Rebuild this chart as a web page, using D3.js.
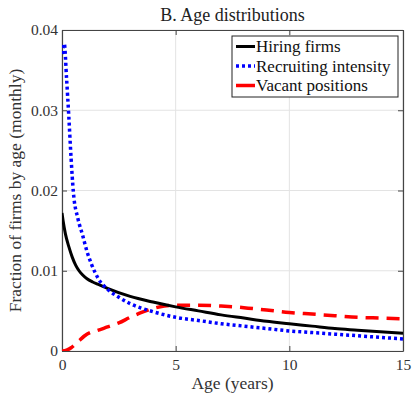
<!DOCTYPE html>
<html>
<head>
<meta charset="utf-8">
<script src="https://cdn.jsdelivr.net/npm/d3@7"></script>
<style>
  body { margin: 0; background: #fff; }
</style>
</head>
<body>
<svg class="ageChart"></svg>
<script>
var xTicks = [0, 5, 10, 15];
var yTicks = [0, 0.01, 0.02, 0.03, 0.04];

var hiringAge = [0, 0.05, 0.15, 0.3, 0.45, 0.6, 0.75, 0.9, 1.1, 1.35, 1.6, 2, 3, 4, 5, 6, 7, 8, 9, 10, 11, 12, 13, 14, 15];
var hiringVal = [0.0172, 0.0162, 0.0146, 0.0130, 0.0117, 0.0107, 0.0100, 0.0095, 0.0090, 0.0086, 0.0083, 0.0078, 0.0068, 0.0061, 0.0055, 0.0050, 0.0045, 0.0041, 0.0037, 0.0034, 0.0031, 0.0028, 0.0026, 0.0024, 0.0022];

var recruitAge = [0, 0.05, 0.1, 0.2, 0.3, 0.4, 0.5, 0.7, 0.9, 1.1, 1.3, 1.6, 2, 2.5, 3, 4, 5, 6, 7, 8, 9, 10, 11, 12, 13, 14, 15];
var recruitVal = [0.0370, 0.0378, 0.0383, 0.0340, 0.0292, 0.0240, 0.0198, 0.0165, 0.0145, 0.0124, 0.0108, 0.0090, 0.0077, 0.0067, 0.0059, 0.0049, 0.0042, 0.0038, 0.0034, 0.0031, 0.0028, 0.0025, 0.0023, 0.0021, 0.0019, 0.0017, 0.0015];

var vacantAge = [0, 0.2, 0.4, 0.6, 0.8, 1, 1.25, 1.5, 2, 2.5, 3, 3.5, 4, 4.5, 5, 6, 7, 8, 9, 10, 11, 12, 13, 14, 15];
var vacantVal = [0, 0.0001, 0.0004, 0.0009, 0.0014, 0.0019, 0.0023, 0.0025, 0.0030, 0.0035, 0.0042, 0.0048, 0.0053, 0.0056, 0.0057, 0.0057, 0.0056, 0.0054, 0.0051, 0.0048, 0.0046, 0.0044, 0.0042, 0.0041, 0.0040];

var seriesNames = ["Hiring firms", "Recruiting intensity", "Vacant positions"];

var serif = "'Liberation Serif', 'DejaVu Serif', 'Times New Roman', Times, serif";

var width = 413, height = 394;
var margin = {top: 30, right: 10, bottom: 43, left: 62};

var svg = d3.select(".ageChart")
    .attr("width", width)
    .attr("height", height);

var x = d3.scaleLinear().domain([0, 15]).range([margin.left, width - margin.right]);
var y = d3.scaleLinear().domain([0, 0.04]).range([height - margin.bottom, margin.top]);

// grid
svg.append("g").selectAll("line.gx")
    .data(xTicks).enter().append("line")
    .attr("x1", function(d) { return x(d); }).attr("x2", function(d) { return x(d); })
    .attr("y1", y(0)).attr("y2", y(0.04))
    .attr("stroke", "#e3e3e3").attr("stroke-width", 1);
svg.append("g").selectAll("line.gy")
    .data(yTicks).enter().append("line")
    .attr("y1", function(d) { return y(d); }).attr("y2", function(d) { return y(d); })
    .attr("x1", x(0)).attr("x2", x(15))
    .attr("stroke", "#e3e3e3").attr("stroke-width", 1);

// axes, ticks inside
var xAxis = svg.append("g")
    .attr("transform", "translate(0," + y(0) + ")")
    .call(d3.axisBottom(x).tickValues(xTicks).tickSizeInner(-5).tickSizeOuter(0).tickPadding(8));
var yAxis = svg.append("g")
    .attr("transform", "translate(" + x(0) + ",0)")
    .call(d3.axisLeft(y).tickValues(yTicks).tickSizeInner(-5).tickSizeOuter(0).tickPadding(4)
        .tickFormat(function(d) { return d === 0 ? "0" : d3.format(".2f")(d); }));
var xAxisTop = svg.append("g")
    .attr("transform", "translate(0," + y(0.04) + ")")
    .call(d3.axisTop(x).tickValues(xTicks).tickSizeInner(-5).tickSizeOuter(0).tickFormat(""));
var yAxisRight = svg.append("g")
    .attr("transform", "translate(" + x(15) + ",0)")
    .call(d3.axisRight(y).tickValues(yTicks).tickSizeInner(-5).tickSizeOuter(0).tickFormat(""));

[xAxis, yAxis, xAxisTop, yAxisRight].forEach(function(a) {
    a.attr("font-family", null);
    a.select(".domain").attr("stroke", "#444").attr("stroke-width", 1.2);
    a.selectAll(".tick line").attr("stroke", "#444");
    a.selectAll("text").style("font-family", serif).style("font-size", "15.5px").attr("fill", "#333");
});

// lines
var line = d3.line()
    .x(function(d) { return x(d[0]); })
    .y(function(d) { return y(d[1]); })
    .curve(d3.curveMonotoneX);

function zip(a, b) { return a.map(function(v, i) { return [v, b[i]]; }); }

svg.append("clipPath").attr("id", "plotClip")
    .append("rect").attr("x", x(0)).attr("y", y(0.04) - 2)
    .attr("width", x(15) - x(0)).attr("height", y(0) - y(0.04) + 2);

var plot = svg.append("g").attr("clip-path", "url(#plotClip)");

plot.append("path").attr("d", line(zip(vacantAge, vacantVal)))
    .attr("fill", "none").attr("stroke", "#ff0000").attr("stroke-width", 3.5)
    .attr("stroke-dasharray", "13,8");
plot.append("path").attr("d", line(zip(hiringAge, hiringVal)))
    .attr("fill", "none").attr("stroke", "#000").attr("stroke-width", 3);
plot.append("path").attr("d", line(zip(recruitAge, recruitVal)))
    .attr("fill", "none").attr("stroke", "#0000ff").attr("stroke-width", 3.5)
    .attr("stroke-dasharray", "3,3");

// title & labels
svg.append("text").attr("x", (x(0) + x(15)) / 2).attr("y", 21)
    .attr("text-anchor", "middle").style("font-family", serif).style("font-size", "18px").attr("fill", "#222")
    .text("B. Age distributions");
svg.append("text").attr("x", (x(0) + x(15)) / 2).attr("y", 389)
    .attr("text-anchor", "middle").style("font-family", serif).style("font-size", "17.5px").attr("fill", "#333")
    .text("Age (years)");
svg.append("text")
    .attr("transform", "translate(21," + ((y(0) + y(0.04)) / 2) + ") rotate(-90)")
    .attr("text-anchor", "middle").style("font-family", serif).style("font-size", "17.5px").attr("fill", "#333")
    .text("Fraction of firms by age (monthly)");

// legend
var lg = svg.append("g");
lg.append("rect").attr("x", 232).attr("y", 36).attr("width", 166).attr("height", 61)
    .attr("fill", "#fff").attr("stroke", "#222").attr("stroke-width", 1);
var legendStyle = [
    {color: "#000", dash: null, w: 3},
    {color: "#0000ff", dash: "3,3", w: 3.5},
    {color: "#ff0000", dash: null, w: 3.5}
];
seriesNames.forEach(function(name, i) {
    var ly = 46.5 + i * 19.5;
    lg.append("line").attr("x1", 236).attr("x2", 255).attr("y1", ly).attr("y2", ly)
        .attr("stroke", legendStyle[i].color).attr("stroke-width", legendStyle[i].w)
        .attr("stroke-dasharray", legendStyle[i].dash);
    lg.append("text").attr("x", 256).attr("y", ly + 5.5).style("font-family", serif).style("font-size", "17px").attr("fill", "#111")
        .text(name);
});
</script>
</body>
</html>
